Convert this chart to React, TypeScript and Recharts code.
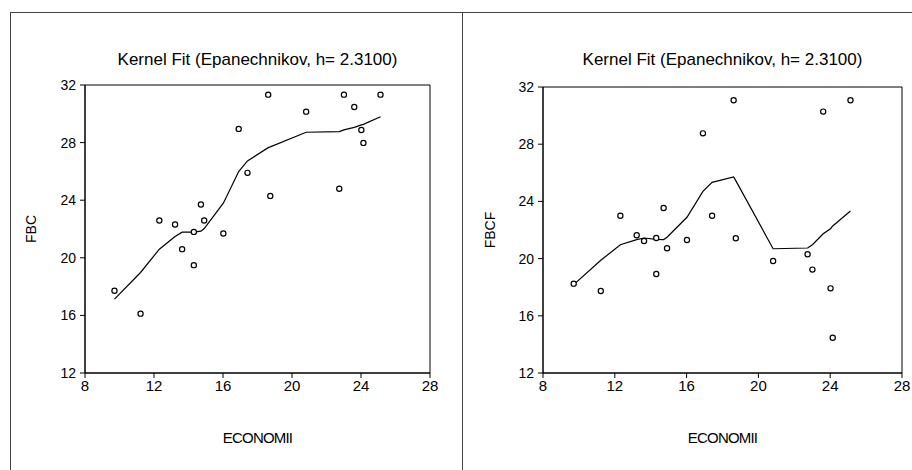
import { ScatterChart, Scatter, XAxis, YAxis, ReferenceArea } from "recharts";

// shared explanatory variable
const ECONOMII = [9.71, 11.22, 12.31, 13.22, 13.63, 14.31, 14.31, 14.72, 14.91, 16.02, 16.91, 17.42, 18.62, 18.74, 20.82, 22.74, 23.01, 23.61, 24.02, 24.14, 25.13];
const FBC = [17.71, 16.12, 22.59, 22.31, 20.6, 21.8, 19.49, 23.7, 22.59, 21.69, 28.95, 25.9, 31.33, 24.3, 30.15, 24.79, 31.33, 30.47, 28.88, 27.98, 31.33];
const FBCF = [18.25, 17.73, 23.0, 21.63, 21.23, 21.44, 18.92, 23.54, 20.72, 21.3, 28.76, 23.0, 31.07, 21.42, 19.83, 20.3, 19.23, 30.28, 17.92, 14.47, 31.07];

// kernel fit evaluated at the distinct x values
const FIT_X = [9.71, 11.22, 12.31, 13.22, 13.63, 14.31, 14.72, 14.91, 16.02, 16.91, 17.42, 18.62, 18.74, 20.82, 22.74, 23.01, 23.61, 24.02, 24.14, 25.13];
const FBC_FIT = [17.13, 18.98, 20.6, 21.48, 21.78, 21.78, 21.85, 22.03, 23.79, 25.99, 26.73, 27.65, 27.7, 28.72, 28.76, 28.88, 29.06, 29.23, 29.27, 29.8];
const FBCF_FIT = [18.18, 19.88, 20.97, 21.33, 21.44, 21.35, 21.33, 21.49, 22.89, 24.7, 25.33, 25.71, 25.45, 20.69, 20.74, 20.97, 21.74, 22.09, 22.28, 23.33];

const X_TICKS = [8, 12, 16, 20, 24, 28];
const Y_TICKS = [12, 16, 20, 24, 28, 32];
const TITLE = "Kernel Fit (Epanechnikov, h= 2.3100)";

const FONT = "'Liberation Sans', Arial, sans-serif";
const NARROW = "'Liberation Sans Narrow', 'Liberation Sans', Arial, sans-serif";

const pairs = (xs: number[], ys: number[]) => xs.map((x, i) => ({ x, y: ys[i] }));

const Dot = (props: any) => (
    <circle cx={props.cx} cy={props.cy} r={2.6} fill="#fff" stroke="#000" strokeWidth={1.2} />
);

function Panel({ yName, points, fit, left, width, margin, labelOffset }: any) {
    return (
        <div style={{ position: "absolute", left, top: 0, width, height: 470 }}>
            <ScatterChart width={width} height={470} margin={margin}>
                <XAxis
                    type="number"
                    dataKey="x"
                    domain={[8, 28]}
                    ticks={X_TICKS}
                    allowDataOverflow
                    height={70}
                    tickSize={5}
                    tickMargin={2}
                    stroke="#000"
                    tick={{ fill: "#000", fontSize: 15, fontFamily: NARROW }}
                    label={{ value: "ECONOMII", position: "insideBottom", offset: 0, fill: "#000", fontSize: 15, fontFamily: NARROW, letterSpacing: -0.8 }}
                />
                <YAxis
                    type="number"
                    dataKey="y"
                    domain={[12, 32]}
                    ticks={Y_TICKS}
                    allowDataOverflow
                    width={60}
                    tickSize={5}
                    tickMargin={4}
                    stroke="#000"
                    tick={{ fill: "#000", fontSize: 14, fontFamily: FONT }}
                    label={{ value: yName, angle: -90, position: "insideLeft", offset: labelOffset, fill: "#000", fontSize: 14, fontFamily: FONT, style: { textAnchor: "middle" } }}
                />
                <ReferenceArea x1={8} x2={28} y1={12} y2={32} fill="none" stroke="#000" strokeWidth={1} fillOpacity={0} />
                <Scatter data={fit} line={{ stroke: "#000", strokeWidth: 1.2 }} lineType="joint" shape={() => <g />} isAnimationActive={false} />
                <Scatter data={points} shape={Dot} isAnimationActive={false} />
            </ScatterChart>
            <div
                style={{
                    position: "absolute",
                    top: 50,
                    left: margin.left + 60,
                    width: width - margin.left - 60 - margin.right,
                    textAlign: "center",
                    fontFamily: FONT,
                    fontSize: 17,
                    lineHeight: "20px",
                    color: "#000",
                    whiteSpace: "nowrap",
                }}
            >
                {TITLE}
            </div>
        </div>
    );
}

export default function App() {
    return (
        <div style={{ position: "absolute", left: 0, top: 0, width: 912, height: 470, background: "#fff", overflow: "hidden" }}>
            <div style={{ position: "absolute", left: 10, top: 12, width: 920, height: 480, border: "1px solid #444", boxSizing: "border-box" }} />
            <div style={{ position: "absolute", left: 462, top: 12, width: 1, height: 460, background: "#444" }} />
            <Panel
                yName="FBC"
                points={pairs(ECONOMII, FBC)}
                fit={pairs(FIT_X, FBC_FIT)}
                left={0}
                width={462}
                margin={{ top: 85, right: 32, bottom: 27, left: 25 }}
                labelOffset={6}
            />
            <Panel
                yName="FBCF"
                points={pairs(ECONOMII, FBCF)}
                fit={pairs(FIT_X, FBCF_FIT)}
                left={462}
                width={450}
                margin={{ top: 87, right: 10, bottom: 27, left: 21 }}
                labelOffset={7}
            />
        </div>
    );
}
